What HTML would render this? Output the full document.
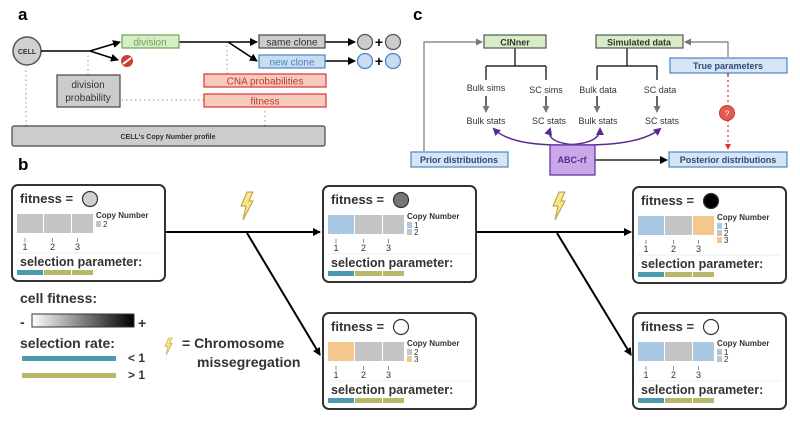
<!DOCTYPE html>
<html><head><meta charset="utf-8"><style>
body{margin:0;background:#fff;}
svg{display:block;font-family:"Liberation Sans",sans-serif;}
</style></head><body>
<svg id="s" width="800" height="423" viewBox="0 0 800 423">
<defs>
<marker id="ar" markerWidth="8" markerHeight="8" refX="7" refY="4" orient="auto" markerUnits="userSpaceOnUse"><path d="M0,0 L8,4 L0,8z" fill="#000"/></marker>
<marker id="arg" markerWidth="7" markerHeight="7" refX="6" refY="3.5" orient="auto" markerUnits="userSpaceOnUse"><path d="M0,0 L7,3.5 L0,7z" fill="#777"/></marker>
<marker id="arp" markerWidth="8" markerHeight="8" refX="6" refY="4" orient="auto" markerUnits="userSpaceOnUse"><path d="M0,0 L8,4 L0,8z" fill="#5a2a91"/></marker>
<marker id="ard" markerWidth="6" markerHeight="6" refX="3" refY="3" orient="auto" markerUnits="userSpaceOnUse"><path d="M0,0 L6,3 L0,6z" fill="#aaa"/></marker>
<marker id="arr" markerWidth="6" markerHeight="6" refX="5" refY="3" orient="auto" markerUnits="userSpaceOnUse"><path d="M0,0 L6,3 L0,6z" fill="#d33"/></marker>
<linearGradient id="gr"><stop offset="0" stop-color="#fff"/><stop offset="1" stop-color="#000"/></linearGradient>
</defs>

<!-- Panel a -->
<g>
<text x="18" y="20" font-size="17" font-weight="bold">a</text>
<g stroke="#aaa" stroke-width="1.3" stroke-dasharray="1.5,3" fill="none">
<line x1="26" y1="126" x2="26" y2="67"/>
<line x1="88" y1="75" x2="88" y2="54"/>
<line x1="227" y1="74" x2="227" y2="45"/>
<line x1="204" y1="100" x2="122" y2="100"/>
<line x1="265" y1="126" x2="265" y2="108"/>
</g>
<circle cx="27" cy="51" r="14" fill="#d0d0d0" stroke="#555" stroke-width="1.5"/>
<text x="27" y="54" font-size="7" font-weight="bold" text-anchor="middle" fill="#333">CELL</text>
<g stroke="#000" stroke-width="1.5" fill="none">
<line x1="41" y1="51" x2="90" y2="51"/>
<line x1="90" y1="51" x2="120" y2="42" marker-end="url(#ar)"/>
<line x1="90" y1="51" x2="118" y2="60" marker-end="url(#ar)"/>
<line x1="179" y1="42" x2="257" y2="42" marker-end="url(#ar)"/>
<line x1="228" y1="42" x2="257" y2="61" marker-end="url(#ar)"/>
<line x1="325" y1="42" x2="355" y2="42" marker-end="url(#ar)"/>
<line x1="325" y1="61" x2="355" y2="61" marker-end="url(#ar)"/>
</g>
<circle cx="127" cy="61" r="6" fill="#d63a2e"/>
<line x1="123" y1="64" x2="131" y2="58" stroke="#fff" stroke-width="2"/>
<rect x="122" y="35" width="57" height="13" fill="#d8ecc8" stroke="#6aa84f" stroke-width="1.2"/>
<text x="150" y="45.5" font-size="10" text-anchor="middle" fill="#6aa84f">division</text>
<rect x="259" y="35" width="66" height="13" fill="#ccc" stroke="#444" stroke-width="1.2"/>
<text x="292" y="45.5" font-size="10" text-anchor="middle" fill="#333">same clone</text>
<rect x="259" y="55" width="66" height="13" fill="#c9dcf0" stroke="#4a86c5" stroke-width="1.2"/>
<text x="292" y="65.5" font-size="10" text-anchor="middle" fill="#4a86c5">new clone</text>
<g stroke-width="1.3">
<circle cx="365" cy="42" r="7.5" fill="#ccc" stroke="#555"/><circle cx="393" cy="42" r="7.5" fill="#ccc" stroke="#555"/>
<circle cx="365" cy="61" r="7.5" fill="#c9dcf0" stroke="#4a86c5"/><circle cx="393" cy="61" r="7.5" fill="#c9dcf0" stroke="#4a86c5"/>
</g>
<text x="379" y="47" font-size="14" font-weight="bold" text-anchor="middle">+</text>
<text x="379" y="66" font-size="14" font-weight="bold" text-anchor="middle">+</text>
<rect x="57" y="75" width="63" height="32" fill="#ccc" stroke="#444" stroke-width="1.2"/>
<text x="88" y="88" font-size="10" text-anchor="middle" fill="#333">division</text>
<text x="88" y="101" font-size="10" text-anchor="middle" fill="#333">probability</text>
<rect x="204" y="74" width="122" height="13" fill="#f6cbbd" stroke="#d33" stroke-width="1.2"/>
<text x="265" y="84.5" font-size="10" text-anchor="middle" fill="#c0392b">CNA probabilities</text>
<rect x="204" y="94" width="122" height="13" fill="#f6cbbd" stroke="#d33" stroke-width="1.2"/>
<text x="265" y="104.5" font-size="10" text-anchor="middle" fill="#c0392b">fitness</text>
<rect x="12" y="126" width="313" height="20" rx="2" fill="#ccc" stroke="#444" stroke-width="1.2"/>
<text x="168" y="139" font-size="7" font-weight="bold" text-anchor="middle" fill="#333">CELL's Copy Number profile</text>
</g>

<!-- Panel c -->
<g>
<text x="413" y="20" font-size="17" font-weight="bold">c</text>
<g stroke="#777" stroke-width="1.2" fill="none">
<polyline points="424,151 424,42 482,42" marker-end="url(#arg)"/>
<polyline points="728,57 728,42 685,42" marker-end="url(#arg)"/>
</g>
<g stroke="#000" stroke-width="1.2" fill="none">
<line x1="515" y1="48" x2="515" y2="66"/><line x1="486" y1="66" x2="546" y2="66"/>
<line x1="486" y1="66" x2="486" y2="80"/><line x1="546" y1="66" x2="546" y2="80"/>
<line x1="627" y1="48" x2="627" y2="66"/><line x1="597" y1="66" x2="657" y2="66"/>
<line x1="597" y1="66" x2="597" y2="80"/><line x1="657" y1="66" x2="657" y2="80"/>
<line x1="486" y1="96" x2="486" y2="112" marker-end="url(#arg)"/>
<line x1="546" y1="96" x2="546" y2="112" marker-end="url(#arg)"/>
<line x1="597" y1="96" x2="597" y2="112" marker-end="url(#arg)"/>
<line x1="657" y1="96" x2="657" y2="112" marker-end="url(#arg)"/>
<line x1="595" y1="160" x2="667" y2="160" marker-end="url(#ar)"/>
</g>
<g stroke="#5a2a91" stroke-width="1.5" fill="none">
<path d="M560,145 Q510,145 494,129" marker-end="url(#arp)"/>
<path d="M585,145 Q545,145 550,129" marker-end="url(#arp)"/>
<path d="M560,145 Q600,145 600,129" marker-end="url(#arp)"/>
<path d="M585,145 Q640,145 660,129" marker-end="url(#arp)"/>
</g>
<line x1="728" y1="75" x2="728" y2="149" stroke="#d33" stroke-width="1.3" stroke-dasharray="2,3" marker-start="url(#arr)" marker-end="url(#arr)"/>
<circle cx="727" cy="113" r="7.5" fill="#e35a50" stroke="#c33"/>
<text x="727" y="116.5" font-size="8" fill="#fff" text-anchor="middle">?</text>
<rect x="484" y="35" width="62" height="13" fill="#d8ecc8" stroke="#555" stroke-width="1.2"/>
<text x="515" y="45.5" font-size="9" font-weight="bold" text-anchor="middle" fill="#333">CINner</text>
<rect x="596" y="35" width="87" height="13" fill="#d8ecc8" stroke="#555" stroke-width="1.2"/>
<text x="639" y="45.5" font-size="9" font-weight="bold" text-anchor="middle" fill="#333">Simulated data</text>
<rect x="670" y="58" width="117" height="15" fill="#d6e4f4" stroke="#4a86c5" stroke-width="1.2"/>
<text x="728" y="69" font-size="9" font-weight="bold" text-anchor="middle" fill="#2e4a7a">True parameters</text>
<g font-size="9" text-anchor="middle" fill="#333">
<text x="486" y="91">Bulk sims</text><text x="546" y="93">SC sims</text><text x="598" y="93">Bulk data</text><text x="660" y="93">SC data</text>
<text x="486" y="124">Bulk stats</text><text x="549" y="124">SC stats</text><text x="598" y="124">Bulk stats</text><text x="662" y="124">SC stats</text>
</g>
<rect x="411" y="152" width="97" height="15" fill="#d6e4f4" stroke="#4a86c5" stroke-width="1.2"/>
<text x="459" y="163" font-size="9" font-weight="bold" text-anchor="middle" fill="#2e4a7a">Prior distributions</text>
<rect x="550" y="145" width="45" height="30" fill="#c8a8e8" stroke="#6a3aa8" stroke-width="1.3"/>
<text x="572" y="163" font-size="9" font-weight="bold" text-anchor="middle" fill="#5a2a91">ABC-rf</text>
<rect x="669" y="152" width="118" height="15" fill="#d6e4f4" stroke="#4a86c5" stroke-width="1.2"/>
<text x="728" y="163" font-size="9" font-weight="bold" text-anchor="middle" fill="#2e4a7a">Posterior distributions</text>
</g>

<!-- Panel b -->
<g>
<text x="18" y="170" font-size="17" font-weight="bold">b</text>
<g stroke="#000" stroke-width="2" fill="none">
<line x1="165" y1="232" x2="320" y2="232" marker-end="url(#ar)"/>
<line x1="247" y1="233" x2="320" y2="355" marker-end="url(#ar)"/>
<line x1="477" y1="232" x2="631" y2="232" marker-end="url(#ar)"/>
<line x1="557" y1="233" x2="631" y2="355" marker-end="url(#ar)"/>
</g>
<g id="bolts"></g>
<g id="cells"></g>
<text x="20" y="303" font-size="14" font-weight="bold" fill="#333">cell fitness:</text>
<text x="20" y="327" font-size="14" font-weight="bold" fill="#333">-</text>
<rect x="32" y="314" width="102" height="13" fill="url(#gr)" stroke="#333"/>
<text x="138" y="328" font-size="14" font-weight="bold" fill="#333">+</text>
<text x="20" y="348" font-size="14" font-weight="bold" fill="#333">selection rate:</text>
<rect x="22" y="356" width="94" height="5" fill="#4a9ab0"/>
<text x="128" y="362" font-size="12" font-weight="bold" fill="#333">&lt; 1</text>
<rect x="22" y="373" width="94" height="5" fill="#b9b86a"/>
<text x="128" y="379" font-size="12" font-weight="bold" fill="#333">&gt; 1</text>
<text x="182" y="348" font-size="14" font-weight="bold" fill="#333">= Chromosome</text>
<text x="197" y="367" font-size="14" font-weight="bold" fill="#333">missegregation</text>
</g>
</svg>
<script>
const boxX=[12,323,633,323,633];
const boxY=[185,186,187,313,313];
const fitnessFill=["#d0d0d0","#777","#000","#fff","#fff"];
const cnValues=[[2,2,2],[1,2,2],[1,2,3],[3,2,2],[1,2,1]];
const cnColors={1:"#a9c8e4",2:"#c4c4c4",3:"#f4c88c"};
const selColors=["#4a9ab0","#b9b86a","#b9b86a"];
const NS="http://www.w3.org/2000/svg";
function mk(tag,at,p){const e=document.createElementNS(NS,tag);for(const k in at)e.setAttribute(k,at[k]);p.appendChild(e);return e;}
const cells=document.getElementById('cells');
for(let i=0;i<5;i++){
  const g=mk('g',{transform:`translate(${boxX[i]},${boxY[i]})`},cells);
  
  
  mk('rect',{x:0,y:0,width:153,height:96,rx:6,fill:'#fff',stroke:'#333','stroke-width':2},g);
  const t=mk('text',{x:8,y:18,'font-size':13,'font-weight':'bold',fill:'#333'},g);t.textContent='fitness =';
  const c=mk('circle',{cx:78,cy:14,r:7.5,fill:fitnessFill[i],stroke:'#333','stroke-width':1.2},g);
  
  
  const bx=[5,32,60],bw=[26,27,21];
  for(let j=0;j<3;j++){
    const r=mk('rect',{x:bx[j],y:29,width:bw[j],height:19,fill:cnColors[cnValues[i][j]]},g);
    
    
    mk('line',{x1:bx[j]+bw[j]/2-5,y1:53,x2:bx[j]+bw[j]/2-5,y2:57,stroke:'#777','stroke-width':0.8},g);
    const tl=mk('text',{x:bx[j]+bw[j]/2-5,y:65,'font-size':9,'text-anchor':'middle',fill:'#333'},g);tl.textContent=j+1;
  }
  const cn=mk('text',{x:84,y:33,'font-size':8,'font-weight':'bold',fill:'#333'},g);cn.textContent='Copy Number';
  const uniq=[...new Set(cnValues[i])].sort();
  uniq.forEach((v,k)=>{
    mk('rect',{x:84,y:36+k*7,width:5,height:6,fill:cnColors[v]},g);
    const lt=mk('text',{x:91,y:42+k*7,'font-size':8,fill:'#333'},g);lt.textContent=v;
  });
  mk('line',{x1:4,y1:68,x2:148,y2:68,stroke:'#eee'},g);
  const sp=mk('text',{x:8,y:81,'font-size':12.5,'font-weight':'bold',fill:'#333'},g);sp.textContent='selection parameter:';
  for(let j=0;j<3;j++){const s=mk('rect',{x:bx[j],y:85,width:bw[j],height:5,fill:selColors[j]},g);
    
    }
}
const bolts=document.getElementById('bolts');
[[241,192,1],[553,192,1],[165,338,0.6]].forEach(b=>{
  const p=mk('path',{d:'M6,0 L12,0 L8,9 L12,9 L2,28 L5,14 L0,14 Z',transform:`translate(${b[0]},${b[1]}) scale(${b[2]})`,fill:'#f7e58a',stroke:'#b8a040','stroke-width':1},bolts);
  
  
});
</script>
</body></html>
